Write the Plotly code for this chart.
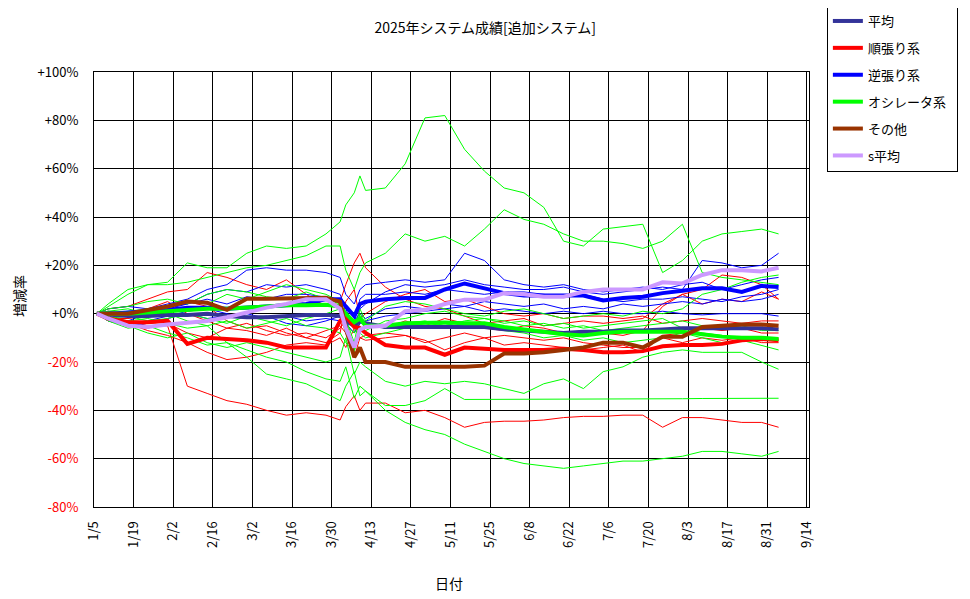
import pandas as pd
import plotly.graph_objects as go

FONT = "Noto Sans CJK JP"

dates = [
    "2025-01-06", "2025-01-10", "2025-01-17", "2025-01-24", "2025-01-31",
    "2025-02-07", "2025-02-14", "2025-02-21", "2025-02-28",
    "2025-03-07", "2025-03-14", "2025-03-21", "2025-03-28",
    "2025-04-02", "2025-04-04", "2025-04-07", "2025-04-09", "2025-04-11", "2025-04-18", "2025-04-25",
    "2025-05-02", "2025-05-09", "2025-05-16", "2025-05-23", "2025-05-30",
    "2025-06-06", "2025-06-13", "2025-06-20", "2025-06-27",
    "2025-07-04", "2025-07-11", "2025-07-18", "2025-07-25",
    "2025-08-01", "2025-08-08", "2025-08-15", "2025-08-22", "2025-08-29",
    "2025-09-04",
]

# individual systems (thin lines), % change
trend_systems = [
    [0, -2, -3, -5, -5, -30, -33, -36, -37.5, -40, -42, -41, -42,
     -44, -38.5, -34, -40, -37, -37, -41, -40, -43, -47, -45, -44.5,
     -44.5, -44, -43, -42.5, -42.5, -42, -42, -47, -43, -43, -44, -45, -45, -47],
    [0, 2, 3, 6, 9, 10, 17, 15, 12, 10, 14, 8, 3,
     5, 12, 21, 25, 19, 11, 6, 3, 2, -1, -4, -3,
     -2, -5, -4, -3, -4, -3, -2, 4, 8, 10, 16, 15, 12, 6],
    [0, -3, -5, -6, -4, -8, -10, -6, -7, -9, -6, -10, -12,
     -8, 5, 10, -2, 0, 5, 8, 10, 5, 6, 3, 0,
     -1, 0, -2, -1, -1, -2, -1, -4, -3, -2, -3, -4, -3, -3],
    [0, -1, -4, -7, -9, -12, -16, -19, -18, -16, -13, -12, -13,
     -10, -14, -6, -10, -11, -10, -9, -12, -10, -8, -10, -13,
     -12, -13, -14, -15, -14, -13, -16, -9, -8, -6, -7, -6, -8, -8],
    [0, -2, -2, -1, 3, 5, 3, -3, -6, -5, -8, -10, -7,
     -5, -8, -18, -10, -9, -8, -9, -11, -15, -12, -10, -9,
     -10, -11, -10, -12, -13, -14, -14, -10, -12, -10, -11, -10, -12, -12],
    [0, 1, 0, 2, 5, 0, -3, -6, -4, -7, -9, -8, -10,
     -6, -3, -15, -3, -4, -6, -3, -5, -2, -4, -6, -7,
     -5, -6, -8, -7, -8, -9, -7, 3, 8, 4, 6, 5, 9, 6],
]

counter_systems = [
    [0, 2, 3, 2, 4, 6, 10, 12, 18, 19, 18, 18, 17,
     15, 8, 4, 10, 12, 13, 14, 13, 14, 25, 22, 14,
     12, 11, 12, 10, 9, 10, 11, 10, 12, 13, 10, 12, 14, 15],
    [0, -2, -3, 0, 2, 4, 8, 10, 9, 12, 11, 12, 10,
     8, 2, -6, 2, 4, 9, 12, 11, 12, 14, 12, 11,
     10, 10, 11, 9, 8, 9, 10, 11, 10, 22, 21, 19, 20, 25],
    [0, -3, -5, -4, -2, 0, -2, -1, 0, -2, -1, -3, -2,
     -3, -4, -8, -4, -3, -1, 0, 1, 2, 3, 1, 2,
     1, 0, 1, 0, 1, 0, 0, 1, 0, -0.5, 0, 0, 0, -1],
    [0, 1, -1, 1, 3, 4, 6, 4, 7, 6, 8, 8, 7,
     6, -2, -4, 6, 8, 8, 9, 8, 10, 9, 8, 9,
     9, 8, 7, 8, 6, 5, 6, 6, 7, 6, 5, 7, 8, 10],
    [0, -1, -4, -3, -1, 1, 2, 0, -2, -1, -4, -5, -3,
     -1, -5, -3, 0, -2, 2, 3, 2, 4, 3, 5, 4,
     3, 4, 2, 3, 2, 4, 3, 4, 5, 4, 6, 5, 6, 8],
]

osc_systems = [
    [0, 4, 10, 12, 13, 21, 19, 19, 25, 28, 27, 28, 33,
     38, 45, 50, 57, 51, 52, 62, 81, 82, 68, 59, 52,
     50, 44, 30, 28, 35, 36, 37, 17, 22, 30, 33, 34, 35, 33],
    [0, 3, 8, 12, 12, 13, 15, 17, 19, 20, 22, 24, 28,
     28, 18, 10, 17, 21, 25, 33, 30, 32, 28, 35, 43,
     39, 37, 33, 30, 30, 29, 27, 30, 37, 17, 15, 14, 13, 12],
    [0, -3, -6, -5, -8, -10, -13, -12, -15, -18, -20, -24, -27,
     -28, -22, -35, -30, -32, -40, -45, -48, -50, -54, -57, -60,
     -62, -63, -64, -63, -62, -61, -61, -60, -59, -57, -57, -58, -59, -57],
    [0, -1, -3, -2, -4, -6, -5, -12, -18, -25, -27, -29, -33,
     -36, -30, -24, -34, -32, -38, -38, -36, -31, -35.5, -35.5, -35.5,
     -35.5, -35.5, -35.5, -35.5, -35.3, -35.3, -35.3, -35.2, -35.2, -35.1, -35, -35, -35, -35],
    [0, -2, -5, -8, -10, -8, -12, -14, -12, -14, -16, -18, -20,
     -18, -10, -25, -20, -22, -28, -30, -28, -29, -28, -29, -31,
     -33, -29, -27, -31, -24, -22, -18, -16, -15, -16, -16, -16, -20, -23],
    [0, 2, 3, 5, 6, 4, 8, 10, 9, 7, 6, 9, 6,
     4, -2, -12, 0, -4, -6, -4, -3, -5, -3, -2, -4,
     -3, -5, -4, -6, -5, -4, -3, -2, -6, -8, -9, -10, -10, -11],
    [0, 1, 2, 0, 3, 5, 4, 8, 6, 9, 12, 10, 8,
     5, -5, -8, 2, -3, 3, 5, 4, 2, 0, -1, 1,
     2, 0, -2, -1, 0, -1, 1, 0, 2, 8, 10, 13, 15, 16],
    [0, -2, -1, -3, -2, 0, -2, -4, -1, -3, -5, -2, 0,
     2, -8, -15, -8, -10, -8, -6, -5, -4, -6, -5, -7,
     -8, -10, -9, -11, -10, -12, -11, -10, -8, -10, -12, -11, -13, -15],
    [0, 0, 1, 2, 0, -3, -5, -3, -6, -4, -2, -5, -6,
     -8, -12, -16, -6, -7, -3, -2, 0, 1, -1, -2, -3,
     -5, -4, -6, -5, -7, -6, -5, -4, -3, -5, -6, -5, -7, -7],
]

# group averages (thick lines)
avg_all = [0, -0.5, -1, -1, -0.5, -0.5, 0, -1, -1.5, -1.5, -1, -0.5, -0.5,
           -1, -3, -5, -3, -4, -5.5, -5.5, -5.5, -5.5, -5.5, -5.5, -6.5,
           -7, -7.5, -8, -7.5, -7.5, -7, -7, -6.5, -6, -6, -6, -6, -6, -6.5]
avg_trend = [0, -2, -3.5, -3.5, -3, -12.5, -10, -10.5, -11, -12, -14, -14, -14,
             -3, -1, -5.5, -6, -8, -13, -14, -14, -17, -14, -14.5, -15,
             -15, -15, -14.5, -15, -16, -16, -15.5, -13.5, -13, -13, -12.5, -11, -10.5, -11]
avg_counter = [0, 0, 0.5, 1, 1.5, 2.5, 2.5, 2, 2.5, 3, 3.5, 4, 6,
               6, 3, -1, 4, 5, 6, 6.5, 6.5, 10, 12.5, 10.5, 8.5,
               7.5, 7.5, 7.5, 7.5, 5.5, 6.5, 7, 8.5, 9.5, 10.5, 10.5, 9, 11.5, 11]
avg_osc = [0, 0, 0, 0.5, 1, 1.5, 2, 2, 2.5, 3, 3.5, 3.5, 3.7,
           3, 0, -3.5, -2, -5, -5, -4, -3.7, -3.7, -4, -4, -5.5,
           -6.5, -7.5, -8.5, -9, -8, -7.5, -7.5, -7.5, -7.5, -8.5, -9.5, -10, -10, -10.5]
avg_other = [0, 0, 0, 1.5, 3, 5, 4.5, 1.6, 6.2, 6.2, 6.2, 6.2, 6.6,
             5, -6, -18, -14, -20, -20, -22, -22, -22, -22, -21.5, -16.5,
             -16.5, -16, -15, -14, -12, -12, -14, -9.5, -9.5, -5.5, -5, -4.5, -4.5, -5]
avg_s = [0, -2, -5, -5.5, -4.5, -3.7, -3, -1.5, 0.5, 2.5, 4, 6, 6,
         2, -6, -14, -6.6, -5.5, -5, 1, 1.6, 4, 5.8, 5.8, 8.5,
         8, 7, 7, 9, 10, 10, 10, 13, 12.5, 16, 18, 18, 17.5, 19]

tick_labels = ["1/5", "1/19", "2/2", "2/16", "3/2", "3/16", "3/30", "4/13", "4/27",
               "5/11", "5/25", "6/8", "6/22", "7/6", "7/20", "8/3", "8/17", "8/31", "9/14"]
y_ticks = [100, 80, 60, 40, 20, 0, -20, -40, -60, -80]
y_labels = ["+100%", "+80%", "+60%", "+40%", "+20%", "+0%",
            "-20%", "-40%", "-60%", "-80%"]

fig = go.Figure()

# thin lines first
for color, group in [("#FF0000", trend_systems), ("#0000FF", counter_systems),
                     ("#00FF00", osc_systems)]:
    for values in group:
        fig.add_trace(go.Scatter(x=dates, y=values, mode="lines", showlegend=False,
                                 line=dict(color=color, width=1), hoverinfo="skip"))

# thick average lines with legend
averages = [
    ("平均", avg_all, "#333399"),
    ("順張り系", avg_trend, "#FF0000"),
    ("逆張り系", avg_counter, "#0000FF"),
    ("オシレータ系", avg_osc, "#00FF00"),
    ("その他", avg_other, "#993300"),
    ("s平均", avg_s, "#CC99FF"),
]
for name, values, color in averages:
    fig.add_trace(go.Scatter(x=dates, y=values, mode="lines", name=name + "\u00a0\u00a0",
                             legendgroup=name, line=dict(color=color, width=4)))

tick_dates = pd.date_range("2025-01-05", periods=len(tick_labels), freq="14D")
y_text = [lab if v >= 0 else f"<span style='color:#FF0000'>{lab}</span>"
          for v, lab in zip(y_ticks, y_labels)]

# page body adds an 8px offset, so margins are shifted to compensate
fig.update_layout(
    width=970, height=599,
    paper_bgcolor="white", plot_bgcolor="white",
    margin=dict(l=86, r=169, t=64, b=100, autoexpand=False),
    font=dict(family=FONT, size=13, color="black"),
    title=dict(text="2025年システム成績[追加システム]", x=0.492, xanchor="center",
               y=0.967, yanchor="middle", font=dict(size=14)),
    showlegend=True,
    legend=dict(x=1.025, y=1.154, xanchor="left", yanchor="top",
                bordercolor="black", borderwidth=1, bgcolor="white",
                traceorder="grouped", tracegroupgap=7, itemwidth=30,
                font=dict(size=13)),
    xaxis=dict(type="date", range=["2025-01-05", "2025-09-14 18:00"],
               tickvals=tick_dates, ticktext=tick_labels, tickangle=-90,
               showgrid=True, gridcolor="black", gridwidth=1,
               showline=True, linecolor="black", linewidth=1, mirror=True,
               ticks="", ticklabelstandoff=8, zeroline=False),
    yaxis=dict(range=[-80, 100], tickvals=y_ticks, ticktext=y_text,
               showgrid=True, gridcolor="black", gridwidth=1,
               showline=True, linecolor="black", linewidth=1, mirror=True,
               ticks="", ticklabelstandoff=12, zeroline=False),
    annotations=[
        dict(text="増減率", textangle=-90, xref="paper", yref="paper",
             x=-0.105, y=0.485, xanchor="center", yanchor="middle",
             showarrow=False, font=dict(size=14)),
        dict(text="日付", xref="paper", yref="paper",
             x=0.497, y=-0.175, xanchor="center", yanchor="middle",
             showarrow=False, font=dict(size=14)),
    ],
)

fig.write_html("out.html")
